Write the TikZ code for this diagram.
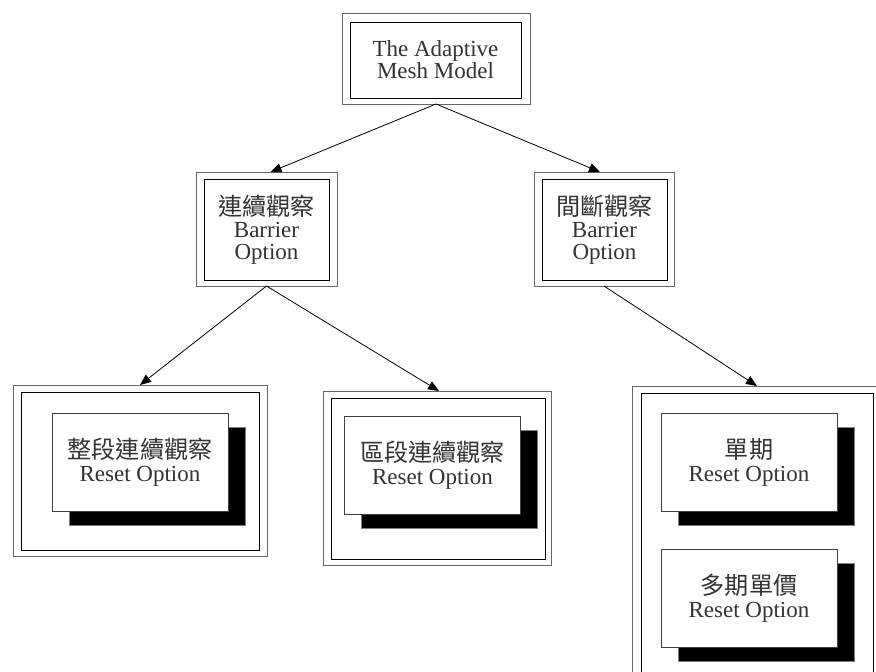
\documentclass[tikz,border=0pt]{standalone}
\usepackage{fontspec}
\setmainfont{Liberation Serif}
\newfontfamily\cjk[Scale=1.05]{Noto Sans CJK TC}
\usetikzlibrary{arrows.meta}
\begin{document}
\begin{tikzpicture}[x=1pt,y=-1pt,
  every node/.style={inner sep=0pt, outer sep=0pt},
  outerbox/.style={draw=black!60, line width=1pt, fill=white},
  innerbox/.style={draw=black, line width=1pt, align=center,
    font=\fontsize{23}{22}\selectfont, text=black!80},
  card/.style={draw=black!75, line width=0.8pt, fill=white, align=center,
    minimum width=176, minimum height=98,
    font=\fontsize{23}{23}\selectfont, text=black!80},
  shadowbox/.style={draw=black!50, fill=black, line width=0.8pt,
    minimum width=176, minimum height=98},
  arr/.style={draw=black, line width=0.8pt, -{Triangle[length=11pt,width=9pt]}}]
\useasboundingbox (0,0) rectangle (876,672);
\clip (0,0) rectangle (876,672);

% top
\node[outerbox, minimum width=188, minimum height=91] (topO) at (436,58.5) {};
\node[innerbox, minimum width=171, minimum height=76] (topI) at (435.5,60) {The Adaptive\\Mesh Model};

% middle
\node[outerbox, minimum width=141, minimum height=114] (lmO) at (266.5,229) {};
\node[innerbox, minimum width=125, minimum height=101] (lmI) at (266.5,229.5) {{\cjk 連續觀察}\\Barrier\\Option};
\node[outerbox, minimum width=140, minimum height=114] (rmO) at (604,229) {};
\node[innerbox, minimum width=125, minimum height=101] (rmI) at (604.5,229.5) {{\cjk 間斷觀察}\\Barrier\\Option};

% bottom left
\node[outerbox, minimum width=254, minimum height=171] (blO) at (140,470.5) {};
\node[innerbox, minimum width=238, minimum height=158] (blI) at (140,471) {};
\node[shadowbox] (blS) at (157.5,476) {};
\node[card] (blC) at (140,462) {{\cjk 整段連續觀察}\\Reset Option};

% bottom middle
\node[outerbox, minimum width=228, minimum height=174] (bmO) at (437,478) {};
\node[innerbox, minimum width=214, minimum height=161] (bmI) at (438,478.5) {};
\node[shadowbox] (bmS) at (449.5,479.5) {};
\node[card] (bmC) at (432.5,465.5) {{\cjk 區段連續觀察}\\Reset Option};

% bottom right
\node[outerbox, minimum width=250, minimum height=314] (brO) at (757,543) {};
\node[innerbox, minimum width=232, minimum height=300] (brI) at (757,543) {};
\node[shadowbox] (br1S) at (766,476) {};
\node[card] (br1C) at (749,462) {{\cjk 單期}\\Reset Option};
\node[shadowbox] (br2S) at (766,612) {};
\node[card] (br2C) at (749,598) {{\cjk 多期單價}\\Reset Option};

% connectors
\draw[arr] (topO.south) -- ([xshift=4pt]lmO.north);
\draw[arr] (topO.south) -- ([xshift=-4pt]rmO.north);
\draw[arr] (lmO.south) -- (blO.north);
\draw[arr] (lmO.south) -- ([xshift=2pt]bmO.north);
\draw[arr] (rmO.south) -- (brO.north);
\end{tikzpicture}
\end{document}
